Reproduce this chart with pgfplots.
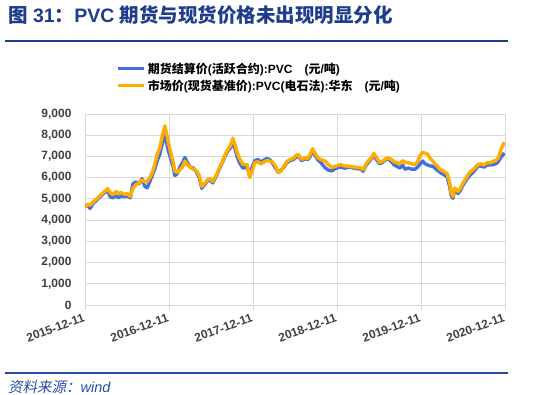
\documentclass[border=0pt]{standalone}
\usepackage{fontspec}
\setmainfont{Liberation Sans}
\newfontfamily\cjk{Noto Sans CJK SC}
\newfontfamily\cjkit{Noto Sans CJK SC}[FakeSlant=0.2]
\usepackage{pgfplots}
\pgfplotsset{compat=1.18}
\definecolor{fut}{RGB}{70,112,222}
\definecolor{spot}{RGB}{255,174,0}
\definecolor{navy}{RGB}{30,62,140}
\definecolor{srcblue}{RGB}{40,75,165}
\definecolor{gridc}{RGB}{217,217,217}
\definecolor{tickc}{RGB}{64,64,64}
\begin{document}
\begin{tikzpicture}[x=1pt,y=1pt]
\path[use as bounding box] (0,0) rectangle (550,395);
\node[anchor=west,text=navy,font=\fontsize{19.5}{22}\selectfont\bfseries,inner sep=0] at (8,380) {{\cjk 图} 31{\cjk ：}PVC {\cjk 期货与现货价格未出现明显分化}};
\draw[navy,line width=1.2pt] (5,354) -- (508,354);
\draw[srcblue,line width=1.2pt] (5,22) -- (508,22);
\node[anchor=west,text=srcblue,font=\fontsize{14.5}{16}\selectfont,inner sep=0] at (8,8) {{\cjkit 资料来源：}\textit{wind}};
\begin{axis}[
  at={(85pt,90pt)}, anchor=south west,
  width=420pt, height=191pt, scale only axis,
  xmin=0, xmax=5, ymin=0, ymax=9000,
  axis line style={draw=none},
  grid=major, major grid style={gridc,line width=0.8pt},
  xtick={0,1,2,3,4,5},
  xticklabels={2015-12-11,2016-12-11,2017-12-11,2018-12-11,2019-12-11,2020-12-11},
  ytick={0,1000,...,9000},
  xtick pos=bottom, ytick pos=left,
  xtick align=outside,
  x tick style={gridc,line width=0.8pt}, major tick length=5pt,
  y tick style={draw=none},
  /pgf/number format/assume math mode=true,
  /pgf/number format/1000 sep={,},
  tick label style={font=\fontsize{12}{14}\selectfont\bfseries, text=tickc},
  x tick label style={rotate=20, anchor=north east, xshift=0pt, yshift=1pt},
  y tick label style={xshift=-10pt},
  legend style={at={(0.075,1.28)}, anchor=north west, draw=none, fill=none,
    font=\fontsize{12}{14}\selectfont\bfseries, row sep=1pt, inner sep=0pt,
    legend cell align=left},
  legend image code/.code={\draw[#1,line width=3.2pt] (0pt,0pt) -- (26pt,0pt);},
]
\addplot[fut, line width=3.4pt, line join=round] coordinates {
(0.00,4650)(0.03,4700)(0.06,4550)(0.10,4800)(0.14,4950)(0.18,5100)(0.22,5250)(0.27,5400)
(0.30,5100)(0.33,5050)(0.37,5150)(0.40,5050)(0.43,5150)(0.47,5100)(0.50,5150)(0.54,5050)
(0.57,5700)(0.60,5800)(0.64,5700)(0.68,5950)(0.71,5600)(0.74,5520)(0.77,5800)(0.80,6100)
(0.83,6400)(0.86,6800)(0.89,7100)(0.92,7600)(0.95,8000)(0.97,7700)(0.99,7300)(1.02,6900)
(1.05,6500)(1.07,6100)(1.10,6200)(1.13,6500)(1.16,6700)(1.19,6950)(1.22,6700)(1.25,6500)
(1.29,6450)(1.33,6250)(1.36,6000)(1.39,5500)(1.42,5650)(1.46,5850)(1.49,5900)(1.52,5750)
(1.56,6050)(1.61,6500)(1.64,6750)(1.67,7050)(1.70,7250)(1.73,7400)(1.76,7700)(1.79,7300)
(1.81,7000)(1.84,6700)(1.88,6450)(1.93,6500)(1.96,6100)(1.99,6500)(2.02,6800)(2.06,6850)
(2.09,6750)(2.12,6800)(2.16,6900)(2.20,6850)(2.23,6700)(2.26,6500)(2.30,6250)(2.33,6350)
(2.37,6500)(2.40,6700)(2.44,6800)(2.48,6850)(2.51,6950)(2.54,7050)(2.56,6900)(2.58,6800)
(2.62,6900)(2.65,6850)(2.68,7000)(2.71,7300)(2.74,7050)(2.77,6850)(2.81,6700)(2.86,6460)
(2.90,6350)(2.94,6320)(2.99,6450)(3.04,6500)(3.09,6450)(3.15,6500)(3.20,6450)(3.25,6420)
(3.29,6400)(3.31,6300)(3.34,6550)(3.37,6700)(3.41,6900)(3.44,7050)(3.47,6850)(3.51,6650)
(3.55,6750)(3.58,6850)(3.61,6880)(3.65,6750)(3.68,6600)(3.71,6540)(3.75,6450)(3.78,6600)
(3.81,6400)(3.85,6450)(3.89,6400)(3.93,6400)(3.96,6500)(3.99,6650)(4.02,6780)(4.05,6650)
(4.08,6600)(4.11,6550)(4.14,6540)(4.18,6400)(4.23,6240)(4.27,6150)(4.31,6050)(4.34,5600)
(4.36,5150)(4.38,5030)(4.40,5400)(4.42,5350)(4.44,5250)(4.47,5400)(4.50,5650)(4.55,5950)
(4.58,6100)(4.62,6250)(4.65,6400)(4.68,6550)(4.71,6550)(4.75,6500)(4.79,6600)(4.83,6600)
(4.86,6620)(4.89,6650)(4.92,6750)(4.94,6900)(4.96,7000)(4.98,7100)(4.99,7170)
};
\addlegendentry{{\cjk 期货结算价}({\cjk 活跃合约}):PVC\quad({\cjk 元}/{\cjk 吨})}
\addplot[spot, line width=3.4pt, line join=round] coordinates {
(0.00,4600)(0.03,4750)(0.06,4700)(0.10,4870)(0.14,5000)(0.18,5150)(0.22,5300)(0.27,5480)
(0.30,5300)(0.33,5200)(0.37,5350)(0.40,5250)(0.43,5300)(0.47,5200)(0.50,5250)(0.54,5110)
(0.57,5500)(0.60,5650)(0.64,5750)(0.68,5900)(0.71,5800)(0.74,5820)(0.77,6000)(0.80,6240)
(0.83,6600)(0.86,7100)(0.89,7400)(0.92,7970)(0.95,8440)(0.97,8100)(0.99,7700)(1.02,7190)
(1.05,6700)(1.07,6300)(1.10,6250)(1.13,6380)(1.16,6500)(1.19,6780)(1.22,6600)(1.25,6480)
(1.29,6400)(1.33,6300)(1.36,6100)(1.39,5590)(1.42,5700)(1.46,5900)(1.49,5950)(1.52,5820)
(1.56,6100)(1.61,6540)(1.64,6800)(1.67,7100)(1.70,7330)(1.73,7500)(1.76,7860)(1.79,7500)
(1.81,7190)(1.84,6900)(1.88,6620)(1.93,6620)(1.96,6000)(1.99,6300)(2.02,6710)(2.06,6750)
(2.09,6650)(2.12,6710)(2.16,6800)(2.20,6780)(2.23,6750)(2.26,6600)(2.30,6240)(2.33,6300)
(2.37,6550)(2.40,6750)(2.44,6860)(2.48,6900)(2.51,7050)(2.54,7100)(2.56,6950)(2.58,6860)
(2.62,6950)(2.65,6900)(2.68,7100)(2.71,7370)(2.74,7150)(2.77,6940)(2.81,6850)(2.86,6780)
(2.90,6600)(2.94,6480)(2.99,6550)(3.04,6620)(3.09,6550)(3.15,6540)(3.20,6500)(3.25,6480)
(3.29,6450)(3.31,6380)(3.34,6600)(3.37,6780)(3.41,6950)(3.44,7140)(3.47,6950)(3.51,6710)
(3.55,6800)(3.58,6900)(3.61,6940)(3.65,6850)(3.68,6750)(3.71,6710)(3.75,6650)(3.78,6800)
(3.81,6730)(3.85,6700)(3.89,6650)(3.93,6620)(3.96,6750)(3.99,7050)(4.02,7190)(4.05,7150)
(4.08,7100)(4.11,6900)(4.14,6780)(4.18,6600)(4.23,6380)(4.27,6300)(4.31,6190)(4.34,5800)
(4.36,5270)(4.38,5110)(4.40,5510)(4.42,5450)(4.44,5350)(4.47,5500)(4.50,5750)(4.55,6060)
(4.58,6250)(4.62,6380)(4.65,6500)(4.68,6620)(4.71,6650)(4.75,6600)(4.79,6710)(4.83,6700)
(4.86,6780)(4.89,6800)(4.92,6940)(4.94,7200)(4.96,7410)(4.98,7550)(4.99,7680)
};
\addlegendentry{{\cjk 市场价}({\cjk 现货基准价}):PVC({\cjk 电石法}):{\cjk 华东}\quad({\cjk 元}/{\cjk 吨})}
\end{axis}
\end{tikzpicture}
\end{document}
